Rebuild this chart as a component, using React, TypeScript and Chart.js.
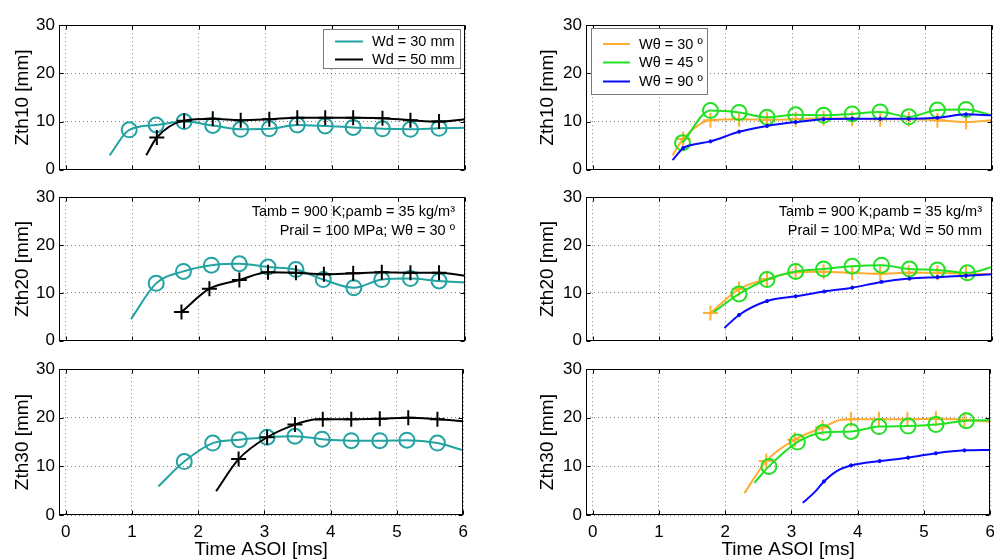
import React, { useEffect, useRef } from "react";
import { Chart, registerables } from "chart.js";
Chart.register(...registerables);

const FONT = "'Liberation Sans', Arial, Helvetica, sans-serif";
const TEAL = "#22a3a1";
const BLACK = "#000000";
const ORANGE = "#ffad33";
const GREEN = "#22e022";
const BLUE = "#0a0aff";

const Y_TITLES = ["Zth10 [mm]", "Zth20 [mm]", "Zth30 [mm]"];
const X_TITLE = "Time ASOI [ms]";
const LEFT_LABELS = ["Wd = 30 mm", "Wd = 50 mm"];
const RIGHT_LABELS = ["Wθ = 30 º", "Wθ = 45 º", "Wθ = 90 º"];
const LEFT_NOTE = ["Tamb = 900 K;ρamb = 35 kg/m³", "Prail = 100 MPa; Wθ = 30 º"];
const RIGHT_NOTE = ["Tamb = 900 K;ρamb = 35 kg/m³", "Prail = 100 MPa; Wd = 50 mm"];

// ---- Left column (Wd) ----
// Zth10
const L10_TEAL_X = [0.66, 0.955, 1.36, 1.78, 2.21, 2.63, 3.06, 3.48, 3.9, 4.32, 4.76, 5.18, 5.61, 6.0];
const L10_TEAL_Y = [3.0, 8.3, 9.3, 10.0, 9.2, 8.4, 8.5, 9.3, 9.1, 8.8, 8.5, 8.4, 8.6, 8.7];
const L10_TEAL_M = [0, 1, 1, 1, 1, 1, 1, 1, 1, 1, 1, 1, 1, 0];
const L10_BLACK_X = [1.21, 1.37, 1.78, 2.21, 2.63, 3.06, 3.48, 3.9, 4.32, 4.76, 5.18, 5.61, 6.0];
const L10_BLACK_Y = [3.0, 6.7, 10.2, 10.6, 10.3, 10.5, 10.8, 10.8, 10.8, 10.7, 10.3, 10.0, 10.5];
const L10_BLACK_M = [0, 1, 1, 1, 1, 1, 1, 1, 1, 1, 1, 1, 0];
// Zth20
const L20_TEAL_X = [0.98, 1.36, 1.77, 2.19, 2.61, 3.04, 3.46, 3.87, 4.33, 4.75, 5.18, 5.61, 6.0];
const L20_TEAL_Y = [4.5, 12.0, 14.5, 15.8, 16.1, 15.4, 14.9, 12.8, 11.1, 12.8, 13.0, 12.5, 12.2];
const L20_TEAL_M = [0, 1, 1, 1, 1, 1, 1, 1, 1, 1, 1, 1, 0];
const L20_BLACK_X = [1.74, 2.16, 2.61, 3.04, 3.46, 3.88, 4.32, 4.75, 5.18, 5.61, 6.0];
const L20_BLACK_Y = [6.0, 10.9, 12.7, 14.3, 14.2, 13.9, 14.1, 14.3, 14.2, 14.2, 13.6];
const L20_BLACK_M = [1, 1, 1, 1, 1, 1, 1, 1, 1, 1, 0];
// Zth30
const L30_TEAL_X = [1.4, 1.79, 2.22, 2.62, 3.04, 3.46, 3.87, 4.31, 4.74, 5.15, 5.61, 6.0];
const L30_TEAL_Y = [5.9, 11.0, 14.8, 15.5, 16.0, 16.2, 15.6, 15.3, 15.3, 15.4, 14.8, 13.3];
const L30_TEAL_M = [0, 1, 1, 1, 1, 1, 1, 1, 1, 1, 1, 0];
const L30_BLACK_X = [2.27, 2.61, 3.04, 3.46, 3.72, 3.88, 4.31, 4.74, 5.17, 5.61, 6.0];
const L30_BLACK_Y = [4.9, 11.5, 16.0, 18.6, 19.6, 19.7, 19.7, 19.8, 20.0, 19.7, 19.3];
const L30_BLACK_M = [0, 1, 1, 1, 0, 1, 1, 1, 1, 1, 0];

// ---- Right column (Wθ) ----
// Zth10
const R10_OR_X = [1.2, 1.36, 1.77, 2.2, 2.62, 3.05, 3.47, 3.9, 4.32, 4.75, 5.18, 5.61, 6.0];
const R10_OR_Y = [3.0, 6.4, 10.3, 10.5, 10.4, 10.5, 10.7, 10.6, 10.5, 10.5, 10.3, 9.9, 10.3];
const R10_OR_M = [0, 1, 1, 1, 1, 1, 1, 1, 1, 1, 1, 1, 0];
const R10_GR_X = [1.35, 1.77, 2.2, 2.62, 3.05, 3.47, 3.9, 4.32, 4.75, 5.18, 5.61, 6.0];
const R10_GR_Y = [5.6, 12.3, 11.9, 10.9, 11.4, 11.3, 11.6, 12.0, 11.0, 12.4, 12.5, 11.3];
const R10_GR_M = [1, 1, 1, 1, 1, 1, 1, 1, 1, 1, 1, 0];
const R10_BL_X = [1.2, 1.36, 1.5, 1.77, 2.2, 2.62, 3.05, 3.47, 3.9, 4.32, 4.75, 5.18, 5.61, 6.0];
const R10_BL_Y = [2.0, 4.5, 5.2, 5.9, 7.9, 9.1, 9.9, 10.5, 10.6, 10.6, 10.6, 10.8, 11.5, 11.3];
const R10_BL_M = [0, 1, 0, 1, 1, 1, 1, 1, 1, 1, 1, 1, 1, 0];
// Zth20
const R20_OR_X = [1.77, 2.2, 2.62, 3.05, 3.47, 3.9, 4.32, 4.75, 5.18, 5.61, 6.0];
const R20_OR_Y = [5.8, 10.8, 12.9, 14.3, 14.4, 14.2, 14.0, 14.2, 14.2, 14.0, 13.9];
const R20_OR_M = [1, 1, 1, 1, 1, 1, 1, 1, 1, 1, 0];
const R20_GR_X = [1.82, 2.2, 2.62, 3.05, 3.47, 3.9, 4.34, 4.76, 5.18, 5.63, 6.0];
const R20_GR_Y = [6.0, 9.8, 12.8, 14.5, 15.0, 15.6, 15.8, 15.0, 14.8, 14.2, 15.4];
const R20_GR_M = [0, 1, 1, 1, 1, 1, 1, 1, 1, 1, 0];
const R20_BL_X = [1.98, 2.2, 2.62, 3.05, 3.48, 3.9, 4.34, 4.76, 5.18, 5.61, 6.0];
const R20_BL_Y = [2.7, 5.4, 8.3, 9.3, 10.3, 11.1, 12.3, 13.0, 13.3, 13.6, 13.9];
const R20_BL_M = [0, 1, 1, 1, 1, 1, 1, 1, 1, 1, 0];
// Zth30
const R30_OR_X = [2.29, 2.62, 3.05, 3.47, 3.75, 3.9, 4.32, 4.75, 5.18, 5.61, 6.0];
const R30_OR_Y = [4.5, 11.1, 15.5, 18.0, 19.6, 19.7, 19.7, 19.7, 19.8, 19.6, 19.2];
const R30_OR_M = [0, 1, 1, 1, 0, 1, 1, 1, 1, 1, 0];
const R30_GR_X = [2.44, 2.66, 3.09, 3.48, 3.9, 4.32, 4.76, 5.18, 5.64, 6.0];
const R30_GR_Y = [6.6, 10.0, 15.0, 17.0, 17.2, 18.2, 18.3, 18.6, 19.4, 19.5];
const R30_GR_M = [0, 1, 1, 1, 1, 1, 1, 1, 1, 0];
const R30_BL_X = [3.17, 3.35, 3.49, 3.69, 3.9, 4.33, 4.76, 5.18, 5.61, 6.0];
const R30_BL_Y = [2.5, 4.7, 6.9, 9.1, 10.2, 11.1, 11.8, 12.7, 13.3, 13.4];
const R30_BL_M = [0, 0, 1, 0, 1, 1, 1, 1, 1, 0];

type Style = "circle" | "cross" | "dot";
interface Series {
  label: string;
  x: number[];
  y: number[];
  m: number[];
  color: string;
  style: Style;
  order: number;
}

const leftSeries = (tx: number[], ty: number[], tm: number[], bx: number[], by: number[], bm: number[]): Series[] => [
  { label: LEFT_LABELS[0], x: tx, y: ty, m: tm, color: TEAL, style: "circle", order: 1 },
  { label: LEFT_LABELS[1], x: bx, y: by, m: bm, color: BLACK, style: "cross", order: 0 },
];
const rightSeries = (
  ox: number[], oy: number[], om: number[],
  gx: number[], gy: number[], gm: number[],
  lx: number[], ly: number[], lm: number[]
): Series[] => [
  { label: RIGHT_LABELS[0], x: ox, y: oy, m: om, color: ORANGE, style: "cross", order: 2 },
  { label: RIGHT_LABELS[1], x: gx, y: gy, m: gm, color: GREEN, style: "circle", order: 1 },
  { label: RIGHT_LABELS[2], x: lx, y: ly, m: lm, color: BLUE, style: "dot", order: 0 },
];

interface LegendBox {
  anchor: "left" | "right";
  dx: number;
  dy: number;
  w: number;
  h: number;
  rows: number[];
  l0: number;
  l1: number;
  tx: number;
}

interface PanelCfg {
  left: number;
  top: number;
  w: number;
  h: number;
  yTitle: string;
  titlePad: number;
  showX: boolean;
  series: Series[];
  legend?: LegendBox;
  notes?: string[];
  padBottom: number;
}

const COL_W = 475;
const LEFT_X = 0;
const RIGHT_X = 527;

const PANELS: PanelCfg[] = [
  {
    left: LEFT_X, top: 11, w: COL_W, h: 173, yTitle: Y_TITLES[0], titlePad: 11, showX: false, padBottom: 12,
    series: leftSeries(L10_TEAL_X, L10_TEAL_Y, L10_TEAL_M, L10_BLACK_X, L10_BLACK_Y, L10_BLACK_M),
    legend: { anchor: "right", dx: 5, dy: 4, w: 137, h: 39, rows: [12.5, 30.5], l0: 12, l1: 40, tx: 49 },
  },
  {
    left: LEFT_X, top: 183, w: COL_W, h: 172, yTitle: Y_TITLES[1], titlePad: 11, showX: false, padBottom: 12,
    series: leftSeries(L20_TEAL_X, L20_TEAL_Y, L20_TEAL_M, L20_BLACK_X, L20_BLACK_Y, L20_BLACK_M),
    notes: LEFT_NOTE,
  },
  {
    left: LEFT_X, top: 355, w: COL_W, h: 210, yTitle: Y_TITLES[2], titlePad: 11, showX: true, padBottom: 0,
    series: leftSeries(L30_TEAL_X, L30_TEAL_Y, L30_TEAL_M, L30_BLACK_X, L30_BLACK_Y, L30_BLACK_M),
  },
  {
    left: RIGHT_X, top: 11, w: COL_W, h: 173, yTitle: Y_TITLES[0], titlePad: 9, showX: false, padBottom: 12,
    series: rightSeries(R10_OR_X, R10_OR_Y, R10_OR_M, R10_GR_X, R10_GR_Y, R10_GR_M, R10_BL_X, R10_BL_Y, R10_BL_M),
    legend: { anchor: "left", dx: 5, dy: 3, w: 116, h: 66, rows: [16, 34.5, 53.5], l0: 12, l1: 39, tx: 48 },
  },
  {
    left: RIGHT_X, top: 183, w: COL_W, h: 172, yTitle: Y_TITLES[1], titlePad: 9, showX: false, padBottom: 12,
    series: rightSeries(R20_OR_X, R20_OR_Y, R20_OR_M, R20_GR_X, R20_GR_Y, R20_GR_M, R20_BL_X, R20_BL_Y, R20_BL_M),
    notes: RIGHT_NOTE,
  },
  {
    left: RIGHT_X, top: 355, w: COL_W, h: 210, yTitle: Y_TITLES[2], titlePad: 9, showX: true, padBottom: 0,
    series: rightSeries(R30_OR_X, R30_OR_Y, R30_OR_M, R30_GR_X, R30_GR_Y, R30_GR_M, R30_BL_X, R30_BL_Y, R30_BL_M),
  },
];

function makeDatasets(series: Series[]) {
  return series.map((s) => ({
    label: s.label,
    data: s.x.map((xv, i) => ({ x: xv, y: s.y[i] })),
    borderColor: s.color,
    backgroundColor: s.color,
    borderWidth: 2,
    cubicInterpolationMode: "monotone" as const,
    pointStyle: s.style === "cross" ? "cross" : "circle",
    pointRadius: s.m.map((v) => (v ? (s.style === "dot" ? 1.6 : 7.5) : 0)),
    pointHoverRadius: 0,
    pointBorderWidth: s.style === "dot" ? 1 : 2,
    pointBorderColor: s.color,
    pointBackgroundColor: s.style === "dot" ? s.color : "rgba(0,0,0,0)",
    order: s.order,
    fill: false,
  }));
}

function Panel({ cfg }: { cfg: PanelCfg }) {
  const ref = useRef<HTMLCanvasElement | null>(null);
  useEffect(() => {
    const canvas = ref.current;
    if (!canvas) return;
    const plugin = {
      id: "matlabBox",
      afterDraw(chart: any) {
        const { ctx, chartArea: a, scales } = chart;
        ctx.save();
        ctx.strokeStyle = "#000";
        ctx.lineWidth = 1;
        ctx.setLineDash([]);
        const L = Math.round(a.left) + 0.5;
        const T = Math.round(a.top) + 0.5;
        const R = Math.round(a.right) - 0.5;
        const B = Math.round(a.bottom) - 0.5;
        ctx.strokeRect(L, T, R - L, B - T);
        ctx.beginPath();
        const xs = scales.x;
        const ys = scales.y;
        xs.ticks.forEach((t: any) => {
          const px = Math.round(xs.getPixelForValue(t.value)) + 0.5;
          ctx.moveTo(px, B);
          ctx.lineTo(px, B - 4);
          ctx.moveTo(px, T);
          ctx.lineTo(px, T + 4);
        });
        ys.ticks.forEach((t: any) => {
          const py = Math.round(ys.getPixelForValue(t.value)) + 0.5;
          ctx.moveTo(L, py);
          ctx.lineTo(L + 4, py);
          ctx.moveTo(R, py);
          ctx.lineTo(R - 4, py);
        });
        ctx.stroke();
        if (cfg.legend) {
          const lg = cfg.legend;
          const bx = Math.round(lg.anchor === "right" ? a.right - lg.dx - lg.w : a.left + lg.dx);
          const by = Math.round(a.top + lg.dy);
          ctx.fillStyle = "#fff";
          ctx.fillRect(bx, by, lg.w, lg.h);
          ctx.strokeStyle = "#7a7a7a";
          ctx.lineWidth = 1;
          ctx.strokeRect(bx + 0.5, by + 0.5, lg.w, lg.h);
          ctx.font = `14.5px ${FONT}`;
          ctx.textBaseline = "middle";
          ctx.textAlign = "left";
          cfg.series.forEach((s, i) => {
            const y = by + lg.rows[i];
            ctx.strokeStyle = s.color;
            ctx.lineWidth = 2;
            ctx.beginPath();
            ctx.moveTo(bx + lg.l0, y);
            ctx.lineTo(bx + lg.l1, y);
            ctx.stroke();
            ctx.fillStyle = "#000";
            ctx.fillText(s.label, bx + lg.tx, y + 0.5);
          });
        }
        if (cfg.notes) {
          ctx.font = `14.5px ${FONT}`;
          ctx.textBaseline = "middle";
          ctx.textAlign = "right";
          ctx.fillStyle = "#000";
          cfg.notes.forEach((n, i) => {
            ctx.fillText(n, a.right - 10, a.top + 15 + i * 19);
          });
        }
        ctx.restore();
      },
    };
    const chart = new Chart(canvas, {
      type: "line",
      data: { datasets: makeDatasets(cfg.series) as any },
      options: {
        responsive: false,
        animation: false,
        devicePixelRatio: 1,
        events: [],
        layout: { padding: { top: 12, left: 0, right: 10, bottom: cfg.padBottom } },
        plugins: { legend: { display: false }, tooltip: { enabled: false } },
        scales: {
          x: {
            type: "linear",
            min: -0.1,
            max: 6,
            afterFit: (s: any) => {
              s.height = cfg.showX ? 50 : 0;
            },
            ticks: {
              stepSize: 1,
              includeBounds: false,
              display: cfg.showX,
              color: "#000",
              font: { family: FONT, size: 17 },
              padding: 7,
              maxRotation: 0,
              autoSkip: false,
            },
            grid: { color: "rgba(0,0,0,0.5)", lineWidth: 1, drawTicks: false },
            border: { display: false, dash: [1, 3] },
            title: {
              display: cfg.showX,
              text: X_TITLE,
              color: "#000",
              font: { family: FONT, size: 19 },
              padding: { top: 0, bottom: 4 },
            },
          },
          y: {
            type: "linear",
            min: 0,
            max: 30,
            afterFit: (s: any) => {
              s.width = 59;
            },
            ticks: {
              stepSize: 10,
              includeBounds: false,
              color: "#000",
              font: { family: FONT, size: 17 },
              padding: 4,
            },
            grid: { color: "rgba(0,0,0,0.5)", lineWidth: 1, drawTicks: false },
            border: { display: false, dash: [1, 3] },
            title: {
              display: true,
              text: cfg.yTitle,
              color: "#000",
              font: { family: FONT, size: 19 },
              padding: { top: cfg.titlePad, bottom: 0 },
            },
          },
        },
      } as any,
      plugins: [plugin],
    });
    return () => chart.destroy();
  }, [cfg]);
  return (
    <canvas
      ref={ref}
      width={cfg.w}
      height={cfg.h}
      style={{ position: "absolute", left: cfg.left, top: cfg.top, width: cfg.w, height: cfg.h }}
    />
  );
}

export default function App() {
  return (
    <div
      style={{
        position: "absolute",
        left: 0,
        top: 0,
        width: 994,
        height: 559,
        overflow: "hidden",
        background: "#fff",
      }}
    >
      {PANELS.map((p, i) => (
        <Panel key={i} cfg={p} />
      ))}
    </div>
  );
}
